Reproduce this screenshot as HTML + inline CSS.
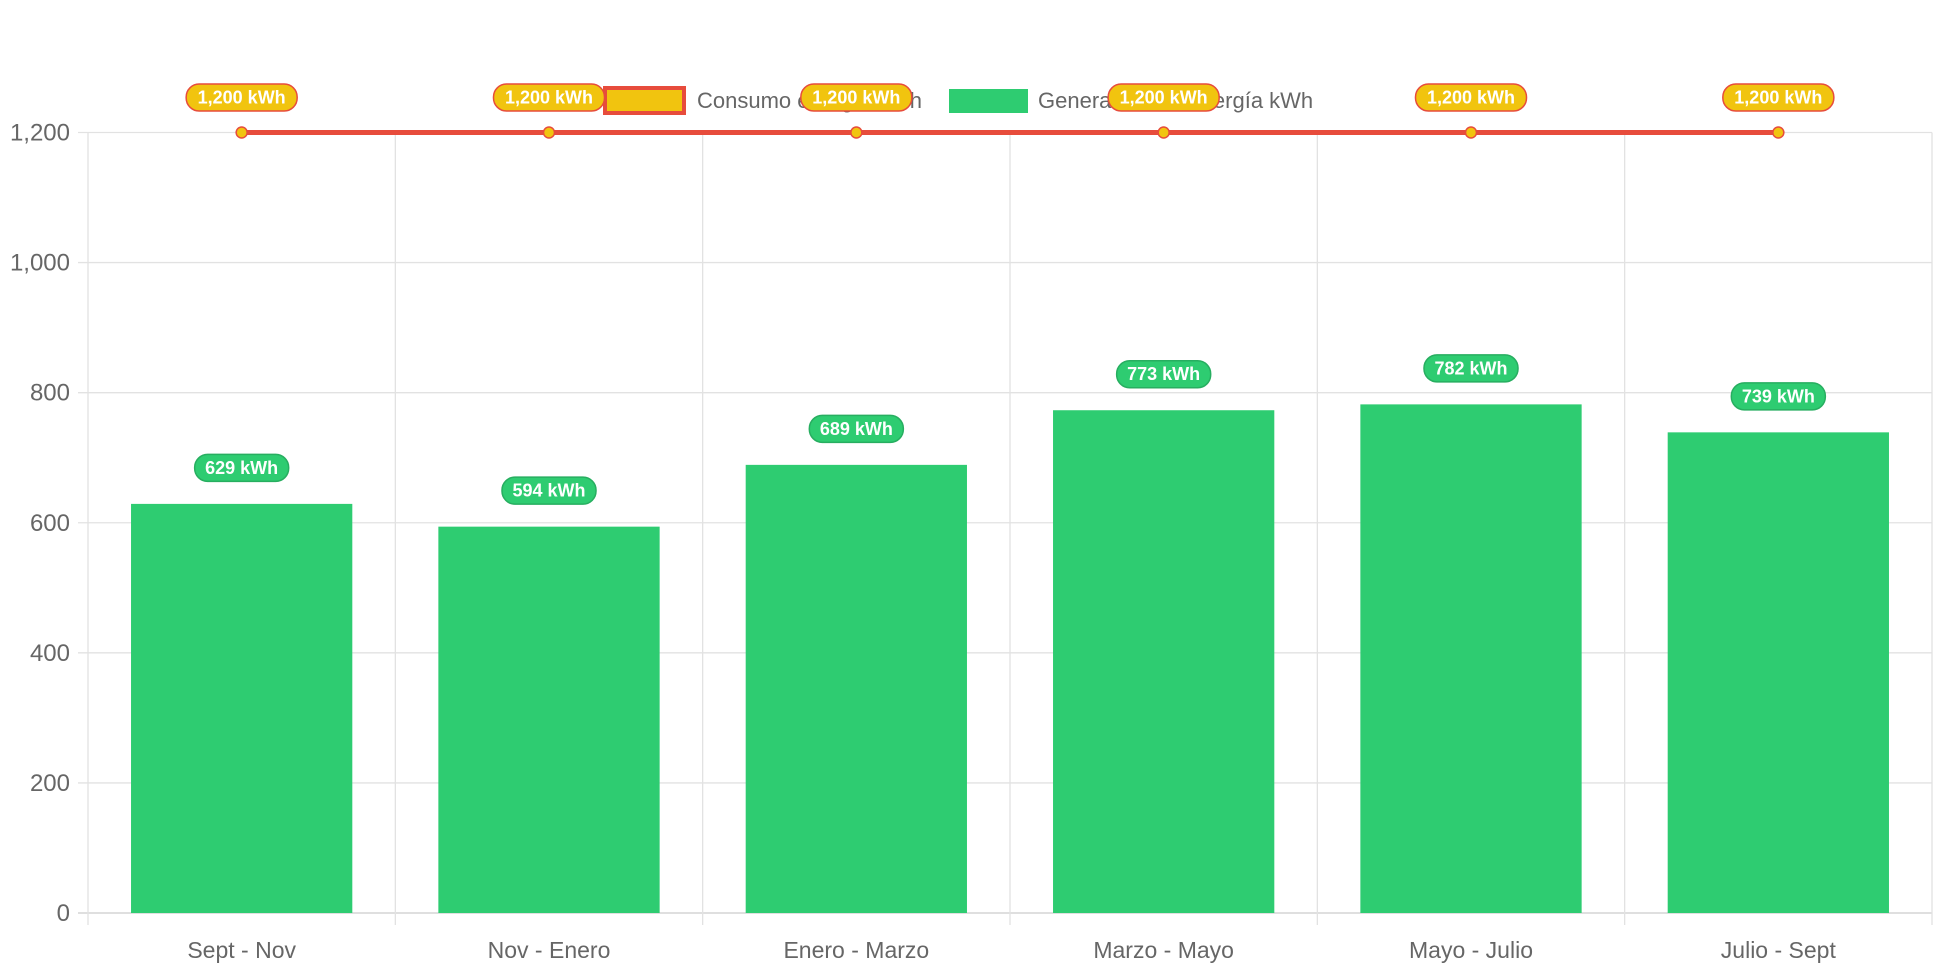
<!DOCTYPE html>
<html><head><meta charset="utf-8"><style>
html,body{margin:0;padding:0;background:#fff;width:1942px;height:970px;overflow:hidden}
svg{font-family:"Liberation Sans",Arial,sans-serif;display:block}
</style></head><body>
<svg id="chart" width="1942" height="970" viewBox="0 0 1942 970" xmlns="http://www.w3.org/2000/svg">
<g id="grid"></g>
<g id="bars"></g>
<g>
<rect x="605" y="88" width="79" height="25" fill="#f1c40f" stroke="#e74c3c" stroke-width="4"/>
<text x="697" y="108" font-size="22" fill="#666">Consumo energía kWh</text>
<rect x="949" y="89" width="79" height="24" fill="#2ecc71"/>
<text x="1038" y="108" font-size="22" fill="#666">Generación de energía kWh</text>
</g>
<g id="line"></g>
<g id="labels"></g>
</svg>
<script>
const categories=["Sept - Nov","Nov - Enero","Enero - Marzo","Marzo - Mayo","Mayo - Julio","Julio - Sept"];
const generacion=[629,594,689,773,782,739];
const consumo=[1200,1200,1200,1200,1200,1200];
const yTicks=[0,200,400,600,800,1000,1200];
const NS="http://www.w3.org/2000/svg";
const L=88,R=1932,T=132.5,B=913,YMAX=1200;
const cw=(R-L)/categories.length;
const y=v=>B-(v/YMAX)*(B-T);
const xc=i=>L+cw*(i+0.5);
function mk(p,tag,a,txt){const e=document.createElementNS(NS,tag);for(const k in a)e.setAttribute(k,a[k]);if(txt!==undefined)e.textContent=txt;p.appendChild(e);return e;}
const fmt=v=>v.toLocaleString('en-US');
const grid=document.getElementById('grid');
yTicks.forEach(t=>{
 const l=mk(grid,'line',{x1:L-10,x2:R,y1:y(t),y2:y(t),stroke:t===0?'#ccc':'#e2e2e2','stroke-width':1.3});
 
 
 const tx=mk(grid,'text',{x:L-18,y:y(t)+8,'text-anchor':'end','font-size':24,fill:'#666'},fmt(t));
 
 
});
for(let i=0;i<=categories.length;i++){
 const x=L+cw*i;
 const l=mk(grid,'line',{x1:x,x2:x,y1:T,y2:B+12,stroke:'#e2e2e2','stroke-width':1.3});
 
 
}
categories.forEach((c,i)=>{
 const tx=mk(grid,'text',{x:xc(i),y:B+45,'text-anchor':'middle','font-size':23,fill:'#666'},c);
 
 
});
const bars=document.getElementById('bars'),labels=document.getElementById('labels');
const bw=cw*0.72;
generacion.forEach((v,i)=>{
 const r=mk(bars,'rect',{x:xc(i)-bw/2,y:y(v),width:bw,height:B-y(v),fill:'#2ecc71'});
 
 
 const cy=y(v)-36;
 const p=mk(labels,'rect',{x:xc(i)-47,y:cy-13.5,width:94,height:27,rx:13,fill:'#2ecc71',stroke:'#27ae60','stroke-width':1.5});
 
 
 const t=mk(labels,'text',{x:xc(i),y:cy+6,'text-anchor':'middle','font-size':18,'font-weight':'bold',fill:'#fff'},v+' kWh');
 
 
});
const line=document.getElementById('line');
const pts=consumo.map((v,i)=>xc(i)+','+y(v)).join(' ');
const pl=mk(line,'polyline',{points:pts,fill:'none',stroke:'#e74c3c','stroke-width':5});


consumo.forEach((v,i)=>{
 const c=mk(line,'circle',{cx:xc(i),cy:y(v),r:5.5,fill:'#f1c40f',stroke:'#e74c3c','stroke-width':1.5});
 
 
 const cy=y(v)-35;
 const p=mk(labels,'rect',{x:xc(i)-55.5,y:cy-13.5,width:111,height:27,rx:13,fill:'#f1c40f',stroke:'#e74c3c','stroke-width':1.5});
 
 
 const t=mk(labels,'text',{x:xc(i),y:cy+6,'text-anchor':'middle','font-size':18,'font-weight':'bold',fill:'#fff'},fmt(v)+' kWh');
 
 
});
</script>
</body></html>
